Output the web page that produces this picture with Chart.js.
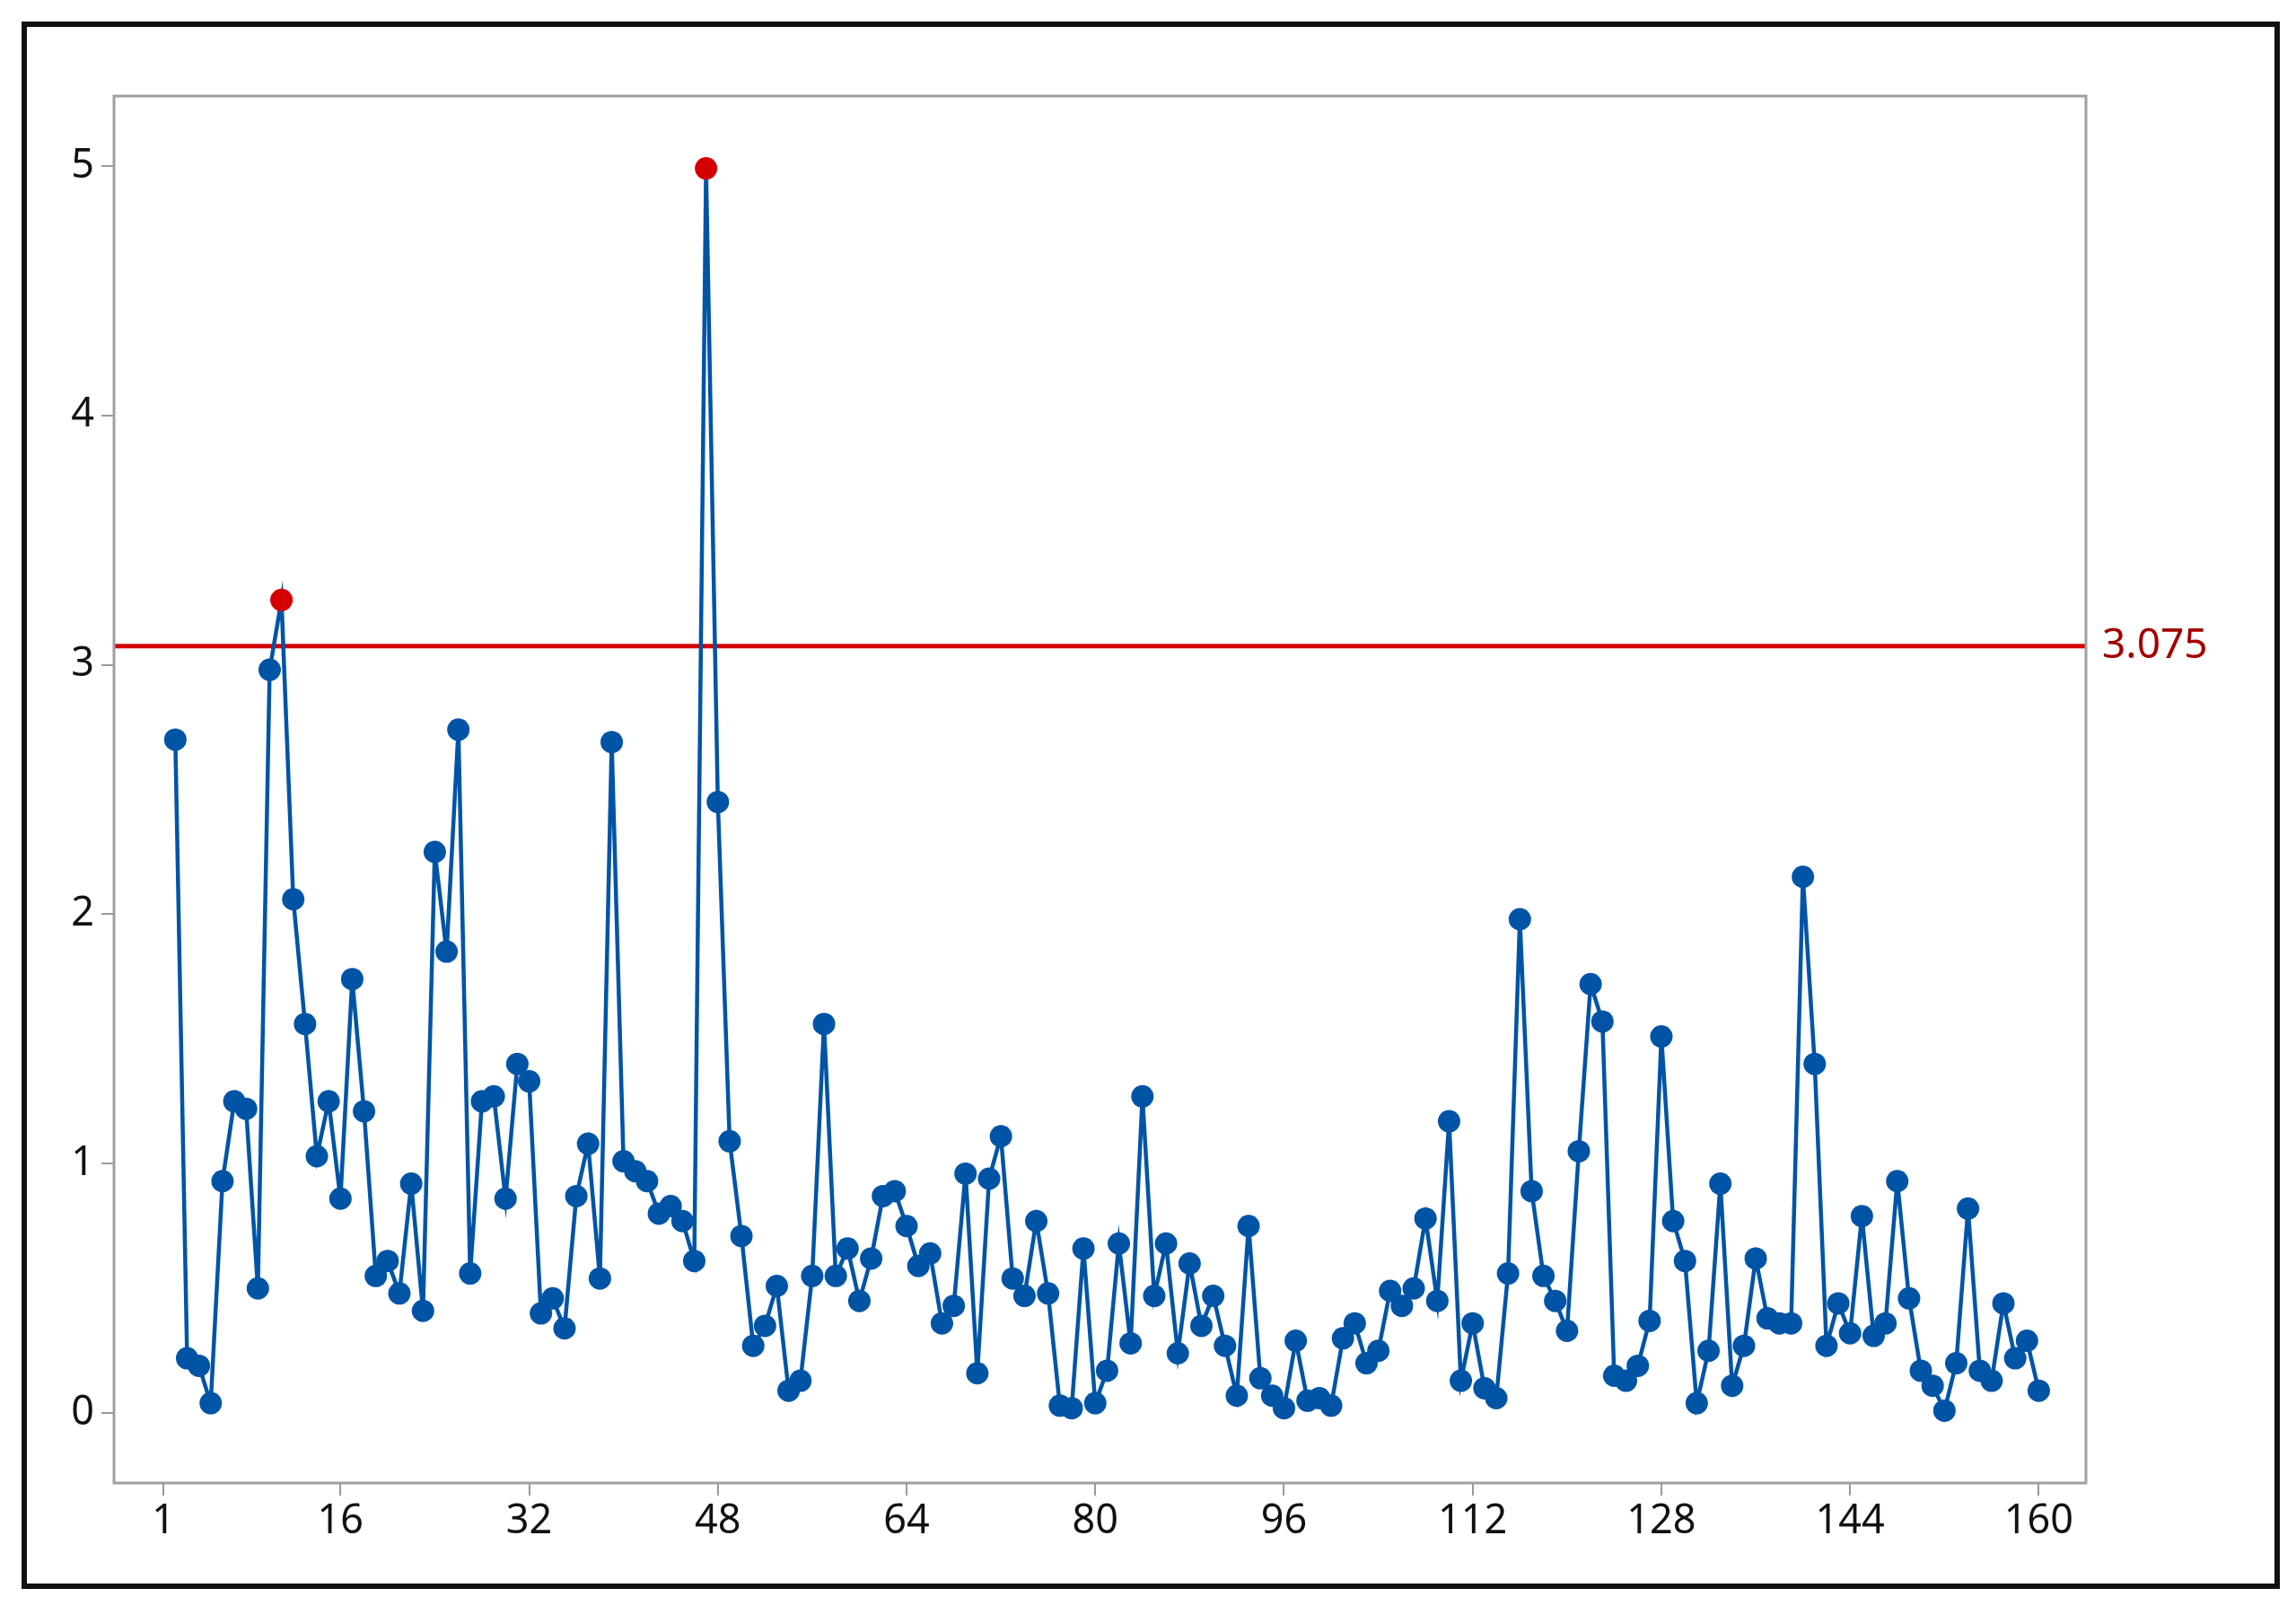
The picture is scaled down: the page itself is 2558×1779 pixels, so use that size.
<!DOCTYPE html>
<html>
<head>
<meta charset="utf-8">
<script src="https://cdn.jsdelivr.net/npm/chart.js@4/dist/chart.umd.min.js"></script>
<style>
  body { margin: 0; background: #fff; }
  #frame { position: absolute; left: 24px; top: 24px; width: 2504px; height: 1734px; border: 6px solid #111; }
  #wrap { position: absolute; left: 0; top: 0; width: 2558px; height: 1779px; }
</style>
</head>
<body>
<div id="frame"></div>
<div id="wrap"><canvas id="mr-chart"></canvas></div>
<script>
// moving range, observations 2..160
const firstObs = 2;
const mrValues = [
  2.70, 0.22, 0.19, 0.04, 0.93, 1.25, 1.22, 0.50, 2.98, 3.26,
  2.06, 1.56, 1.03, 1.25, 0.86, 1.74, 1.21, 0.55, 0.61, 0.48,
  0.92, 0.41, 2.25, 1.85, 2.74, 0.56, 1.25, 1.27, 0.86, 1.40,
  1.33, 0.40, 0.46, 0.34, 0.87, 1.08, 0.54, 2.69, 1.01, 0.97,
  0.93, 0.80, 0.83, 0.77, 0.61, 4.99,
  2.45, 1.09, 0.71, 0.27, 0.35, 0.51, 0.09, 0.13, 0.55, 1.56,
  0.55, 0.66, 0.45, 0.62, 0.87, 0.89, 0.75, 0.59, 0.64, 0.36,
  0.43, 0.96, 0.16, 0.94, 1.11, 0.54, 0.47, 0.77, 0.48, 0.03,
  0.02, 0.66, 0.04, 0.17, 0.68, 0.28, 1.27, 0.47, 0.68, 0.24,
  0.60, 0.35, 0.47, 0.27, 0.07, 0.75, 0.14, 0.07, 0.02, 0.29,
  0.05, 0.06, 0.03, 0.30, 0.36, 0.20, 0.25, 0.49, 0.43, 0.50,
  0.78, 0.45, 1.17, 0.13, 0.36, 0.10, 0.06, 0.56, 1.98, 0.89,
  0.55, 0.45, 0.33, 1.05, 1.72, 1.57, 0.15, 0.13, 0.19, 0.37,
  1.51, 0.77, 0.61, 0.04, 0.25, 0.92, 0.11, 0.27, 0.62, 0.38,
  0.36, 0.36, 2.15, 1.40, 0.27, 0.44, 0.32, 0.79, 0.31, 0.36,
  0.93, 0.46, 0.17, 0.11, 0.01, 0.20, 0.82, 0.17, 0.13, 0.44,
  0.22, 0.29, 0.09,
];
const upperLimit = 3.075;
const xTicks = [1, 16, 32, 48, 64, 80, 96, 112, 128, 144, 160];
const yTicks = [0, 1, 2, 3, 4, 5];

const blue = '#0054a6';
const red = '#d40000';

// frame around plot area + the limit line with its label
const overlay = {
  id: 'overlay',
  beforeDatasetsDraw(chart) {
    const { ctx, chartArea: a, scales } = chart;
    const y = scales.y.getPixelForValue(upperLimit);
    ctx.save();
    ctx.strokeStyle = red;
    ctx.lineWidth = 5;
    ctx.beginPath();
    ctx.moveTo(a.left, y);
    ctx.lineTo(a.right, y);
    ctx.stroke();
    ctx.restore();
  },
  afterDraw(chart) {
    const { ctx, chartArea: a, scales } = chart;
    ctx.save();
    ctx.strokeStyle = '#a0a0a0';
    ctx.lineWidth = 3;
    ctx.strokeRect(a.left, a.top, a.right - a.left, a.bottom - a.top);
    ctx.fillStyle = '#a30000';
    ctx.font = '46px "Noto Sans"';
    ctx.textBaseline = 'middle';
    ctx.fillText(upperLimit.toFixed(3), a.right + 18, scales.y.getPixelForValue(upperLimit));
    ctx.restore();
  },
};

const pts = mrValues.map((v, i) => ({ x: firstObs + i, y: v }));

new Chart(document.getElementById('mr-chart'), {
  type: 'scatter',
  data: {
    datasets: [{
      data: pts,
      showLine: true,
      borderColor: blue,
      borderWidth: 4.5,
      pointRadius: 12.5,
      pointHoverRadius: 12.5,
      pointBorderWidth: 0,
      pointBackgroundColor: ctx => (ctx.raw && ctx.raw.y > upperLimit ? red : blue),
    }],
  },
  plugins: [overlay],
  options: {
    responsive: true,
    maintainAspectRatio: false,
    animation: false,
    layout: { padding: { left: 0, top: 107, right: 234, bottom: 53 } },
    plugins: { legend: { display: false }, tooltip: { enabled: false } },
    scales: {
      x: {
        type: 'linear',
        min: -3.2,
        max: 164,
        afterBuildTicks: s => { s.ticks = xTicks.map(v => ({ value: v })); },
        afterFit: s => { s.height = 74; },
        grid: { drawOnChartArea: false, tickLength: 14, color: '#999', lineWidth: 2 },
        border: { display: false },
        ticks: { color: '#111', font: { family: 'Noto Sans', size: 45 }, padding: 2, maxRotation: 0 },
      },
      y: {
        min: -0.28,
        max: 5.28,
        afterBuildTicks: s => { s.ticks = yTicks.map(v => ({ value: v })); },
        afterFit: s => { s.width = 127; },
        grid: { drawOnChartArea: false, tickLength: 14, color: '#999', lineWidth: 2 },
        border: { display: false },
        ticks: { color: '#111', font: { family: 'Noto Sans', size: 45 }, padding: 8 },
      },
    },
  },
});
</script>
</body>
</html>
